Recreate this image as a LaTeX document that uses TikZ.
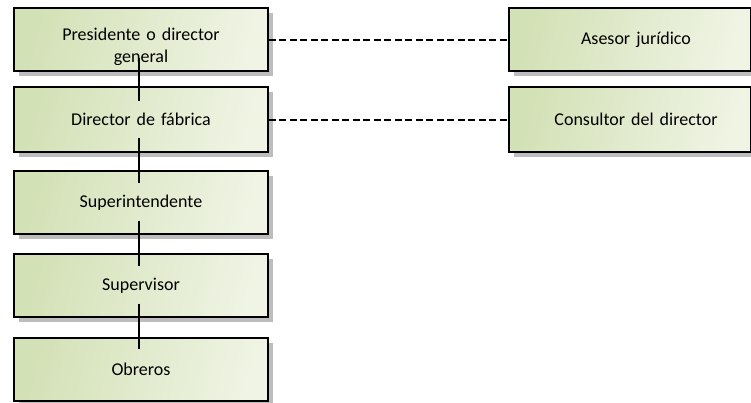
\documentclass[tikz,border=0pt]{standalone}
\usepackage{fontspec}
\setmainfont[WordSpace=0.85]{Carlito}
\usetikzlibrary{shadows,calc}

\definecolor{boxdark}{HTML}{D3E1B6}
\definecolor{boxlight}{HTML}{EFF4E4}
\definecolor{shadowgray}{HTML}{BDBDBD}

\tikzset{
  orgbox/.style={
    draw=black, line width=1.6pt, rectangle,
    minimum width=254pt, minimum height=63pt,
    shading=axis, left color=boxdark, right color=boxlight, shading angle=75,
    drop shadow={shadow xshift=5pt, shadow yshift=-5pt, fill=shadowgray, opacity=1},
    font=\fontsize{18pt}{22pt}\selectfont,
    align=center, text width=240pt
  },
  sidebox/.style={orgbox, minimum width=242pt, text width=228pt},
  chain/.style={draw=black, line width=1.8pt},
  staff/.style={draw=black, line width=1.8pt, dash pattern=on 7pt off 3.5pt}
}

\begin{document}
\begin{tikzpicture}[x=1pt, y=-1pt]
  \useasboundingbox (0,0) rectangle (751,402);

  % line of command
  \node[orgbox, text height=27pt] (pres) at (141,39.5) {Presidente o director\\general};
  \node[orgbox, minimum height=65pt] (fab) at (141,119.5) {Director de fábrica};
  \node[orgbox] (sup)   at (141,202.5) {Superintendente};
  \node[orgbox] (visor) at (141,285.5) {Supervisor};
  \node[orgbox] (obr)   at (141,369.5) {Obreros};

  % staff positions
  \node[sidebox] (ases) at (630,39.5)  {\hspace*{12pt}Asesor jurídico};
  \node[sidebox, minimum height=65pt] (cons) at (630,119.5) {\hspace*{12pt}Consultor del director};

  % vertical links
  \draw[chain] ($(pres.center)+(-2,18)$)  -- ($(fab.north)+(-2,15)$);
  \draw[chain] ($(fab.center)+(-2,18)$)   -- ($(sup.north)+(-2,13)$);
  \draw[chain] ($(sup.center)+(-2,18)$)   -- ($(visor.north)+(-2,13)$);
  \draw[chain] ($(visor.center)+(-2,18)$) -- ($(obr.north)+(-2,12)$);

  % dashed staff links
  \draw[staff] ($(pres.east)+(0,0.5)$) -- ($(ases.west)+(0,0.5)$);
  \draw[staff] ($(fab.east)+(0,0.5)$)  -- ($(cons.west)+(0,0.5)$);
\end{tikzpicture}
\end{document}
